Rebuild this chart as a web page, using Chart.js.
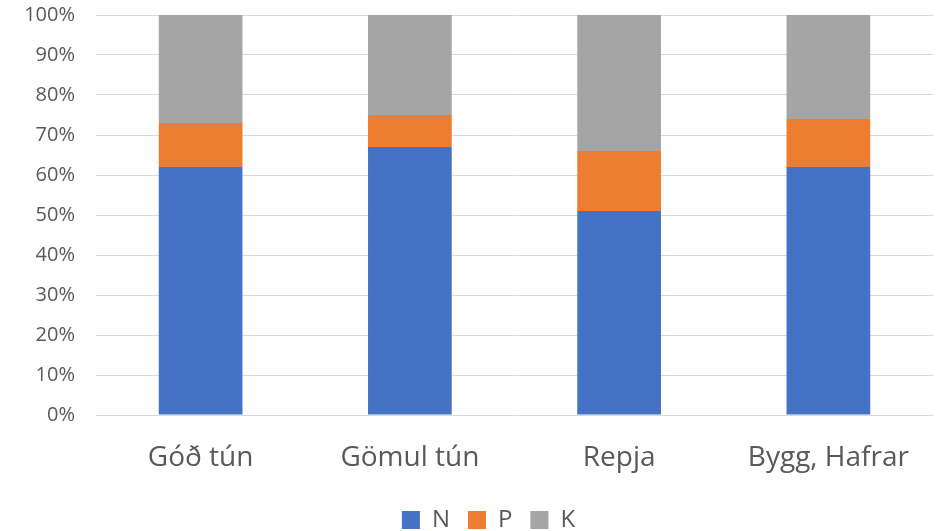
<!DOCTYPE html>
<html>
<head>
<meta charset="utf-8">
<script src="https://cdn.jsdelivr.net/npm/chart.js@4/dist/chart.umd.min.js"></script>
<style>
  html, body { margin: 0; padding: 0; background: #ffffff; }
  #wrap { width: 943px; height: 531px; }
</style>
</head>
<body>
<div id="wrap"><canvas id="c" width="943" height="531"></canvas></div>
<script>
// Nutrient share (N, P, K) per crop type, in percent
const categories = ['Góð tún', 'Gömul tún', 'Repja', 'Bygg, Hafrar'];
const nValues = [62, 67, 51, 62];
const pValues = [11, 8, 15, 12];
const kValues = [27, 25, 34, 26];
const yTicks = [0, 10, 20, 30, 40, 50, 60, 70, 80, 90, 100];

const FONT = '"Open Sans", sans-serif';
const TEXT = '#595959';

// Nudge the legend row so it is centred a little right of the canvas centre
const legendOffset = {
  id: 'legendOffset',
  afterLayout(chart) {
    if (chart.legend) { chart.legend.left += 44; }
  }
};

new Chart(document.getElementById('c'), {
  type: 'bar',
  data: {
    labels: categories,
    datasets: [
      { label: 'N', data: nValues, backgroundColor: '#4472c4' },
      { label: 'P', data: pValues, backgroundColor: '#ed7d31' },
      { label: 'K', data: kValues, backgroundColor: '#a5a5a5' }
    ]
  },
  plugins: [legendOffset],
  options: {
    responsive: false,
    animation: false,
    layout: { padding: { left: 0, right: 10, top: 15, bottom: -11 } },
    datasets: { bar: { barPercentage: 0.4, categoryPercentage: 1.0 } },
    plugins: {
      tooltip: { enabled: false },
      legend: {
        position: 'bottom',
        labels: {
          font: { family: FONT, size: 24 },
          color: TEXT,
          boxWidth: 18,
          boxHeight: 18,
          padding: 18
        }
      }
    },
    scales: {
      x: {
        stacked: true,
        grid: { display: false },
        border: { display: false },
        ticks: { font: { family: FONT, size: 28 }, color: TEXT, padding: 18 },
        afterFit: (s) => { s.height = 75; s.paddingLeft = 0; s.paddingRight = 0; }
      },
      y: {
        stacked: true,
        min: 0,
        max: 100,
        afterBuildTicks: (s) => { s.ticks = yTicks.map(v => ({ value: v })); },
        grid: { color: '#d9d9d9', lineWidth: 1, drawTicks: false },
        border: { display: false },
        ticks: {
          font: { family: FONT, size: 20 },
          color: TEXT,
          padding: 21,
          callback: (v) => v + '%'
        },
        afterFit: (s) => { s.width = 96; s.paddingTop = 0; s.paddingBottom = 0; }
      }
    }
  }
});
</script>
</body>
</html>
